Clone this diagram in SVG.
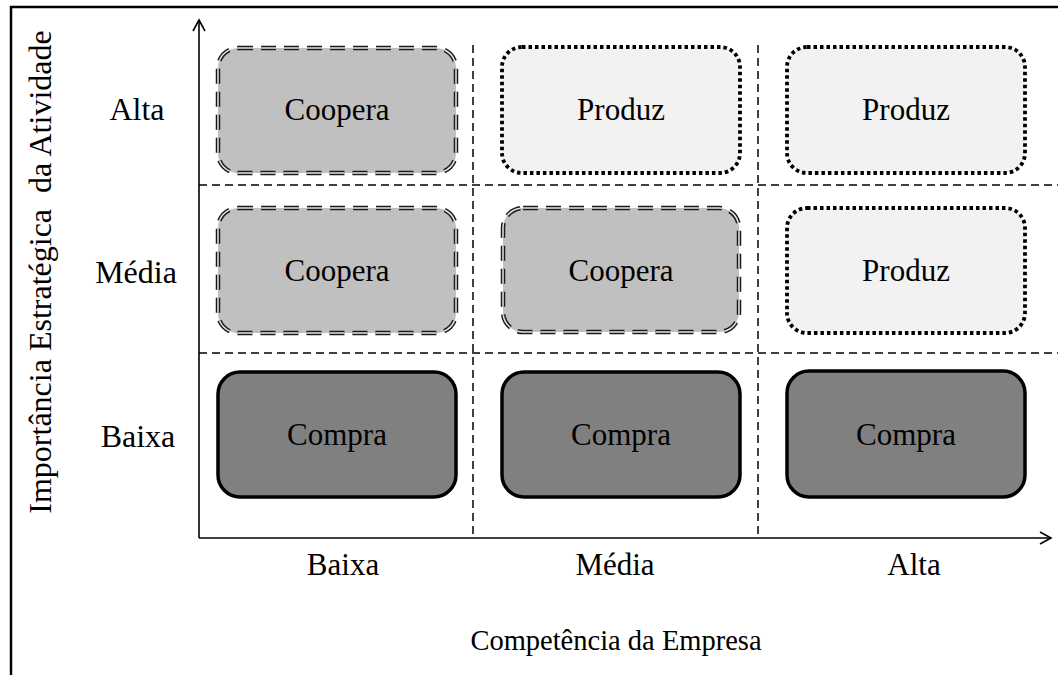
<svg xmlns="http://www.w3.org/2000/svg" width="1058" height="675" viewBox="0 0 1058 675">
<defs>
<style>
text{font-family:"Liberation Serif","Times New Roman",serif;font-size:31px;fill:#000;text-anchor:middle}
.row{font-size:32px}
.coop{fill:#c0c0c0;stroke:#1a1a1a;stroke-width:4.5;stroke-dasharray:15 8}
.coopin{fill:none;stroke:#e6e6e6;stroke-width:1.5;stroke-dasharray:15 8}
.prod{fill:#f2f2f2;stroke:#000;stroke-width:3.8;stroke-dasharray:3.5 3}
.comp{fill:#808080;stroke:#000;stroke-width:3.5}
.grid{stroke:#000;stroke-width:1.5;stroke-dasharray:8 5;fill:none}
.axis{stroke:#000;stroke-width:1.6;fill:none}
</style>
</defs>
<rect width="1058" height="675" fill="#fff"/>
<g id="frame">
<line x1="10" y1="7" x2="1058" y2="7" stroke="#000" stroke-width="2.5"/>
<line x1="11" y1="6" x2="11" y2="675" stroke="#000" stroke-width="2.5"/>
</g>
<g id="connectors">
<line class="grid" x1="473" y1="45" x2="473" y2="538"/>
<line class="grid" x1="758" y1="45" x2="758" y2="538"/>
<line class="grid" x1="199" y1="185" x2="1058" y2="185"/>
<line class="grid" x1="199" y1="353" x2="1058" y2="353"/>
<line class="axis" x1="199" y1="20" x2="199" y2="538"/>
<line class="axis" x1="199" y1="538" x2="1051" y2="538"/>
<polyline class="axis" points="193,31 199,20 205,31"/>
<polyline class="axis" points="1040,532 1051,538 1040,544"/>
</g>
<g id="n11"><rect class="coop" x="218" y="48" width="238" height="125" rx="20"/><rect class="coopin" x="218" y="48" width="238" height="125" rx="20"/><text x="337" y="120">Coopera</text></g>
<g id="n12"><rect class="prod" x="502" y="47" width="238" height="126" rx="20"/><text x="621" y="120">Produz</text></g>
<g id="n13"><rect class="prod" x="787" y="47" width="238" height="126" rx="20"/><text x="906" y="120">Produz</text></g>
<g id="n21"><rect class="coop" x="218" y="208" width="238" height="125" rx="20"/><rect class="coopin" x="218" y="208" width="238" height="125" rx="20"/><text x="337" y="281">Coopera</text></g>
<g id="n22"><rect class="coop" x="503" y="208" width="236" height="124" rx="20"/><rect class="coopin" x="503" y="208" width="236" height="124" rx="20"/><text x="621" y="281">Coopera</text></g>
<g id="n23"><rect class="prod" x="787" y="208" width="238" height="125" rx="20"/><text x="906" y="281">Produz</text></g>
<g id="n31"><rect class="comp" x="218" y="372" width="238" height="125" rx="22"/><text x="337" y="445">Compra</text></g>
<g id="n32"><rect class="comp" x="502" y="372" width="238" height="125" rx="22"/><text x="621" y="445">Compra</text></g>
<g id="n33"><rect class="comp" x="787" y="371" width="238" height="126" rx="22"/><text x="906" y="445">Compra</text></g>
<g id="labels">
<text class="row" x="137" y="120">Alta</text>
<text class="row" x="136" y="283">Média</text>
<text class="row" x="138" y="447">Baixa</text>
<text x="343" y="575">Baixa</text>
<text x="615" y="575">Média</text>
<text x="914" y="575">Alta</text>
<text x="616" y="650" style="font-size:28.5px">Competência da Empresa</text>
<text transform="translate(51,272) rotate(-90)" xml:space="preserve" style="font-size:32px">Importância Estratégica  da Atividade</text>
</g>
</svg>
